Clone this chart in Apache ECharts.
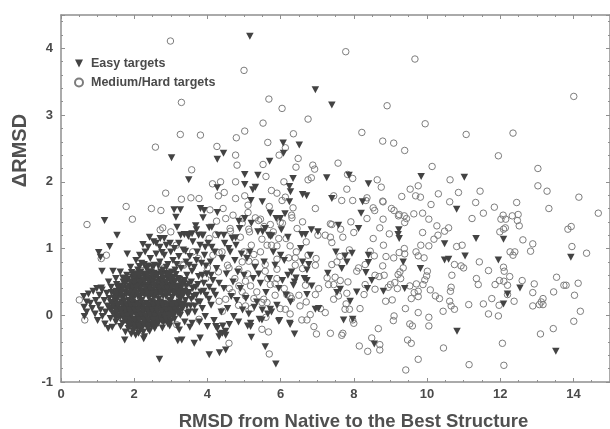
<!DOCTYPE html>
<html><head><meta charset="utf-8">
<style>html,body{margin:0;padding:0;background:#fff}#c{width:610px;height:429px;filter:blur(0.55px)}</style>
<script src="https://cdn.jsdelivr.net/npm/echarts@6/dist/echarts.min.js"></script>
</head><body><div id="c"></div>
<script>
const xTickLabels=[0,2,4,6,8,10,12,14];
const yTickLabels=[-1,0,1,2,3,4];
const easyUpper=[[5.16,4.18],[3.02,2.36],[3.49,2.03],[6.07,2.58],[6.51,2.55],[6.08,2.43],[4.44,2.43],[4.27,2.34],[5.7,2.31],[5.02,2.11],[5.38,2.1],[5.02,1.96],[6.34,2.05],[4.27,1.91],[5.31,1.92],[5.24,1.88],[6.24,1.93],[6.27,1.85],[6.6,1.81],[5.19,1.72],[5.5,1.7],[6.24,1.7],[3.09,1.58],[3.26,1.58],[3.81,1.6],[3.91,1.57],[4.27,1.54],[5.72,1.53],[6.12,1.52],[6.95,3.38],[7.4,3.15],[9.84,2.08],[11.02,2.07],[7.87,2.1],[7.26,2.06],[8.4,1.97],[6.71,1.79],[7.4,1.75],[8.24,1.7],[10.81,1.59],[8.2,1.53]];
const easyRight=[[6.84,1.28],[7.02,1.25],[6.68,1.21],[7.58,1.35],[8.13,1.3],[9.23,1.28],[9.24,1.15],[9.21,1.21],[11.34,1.15],[12.09,1.14],[10.48,1.07],[11.04,0.89],[7.51,0.95],[7.95,0.93],[7.76,0.89],[7.81,0.8],[8.4,0.9],[8.4,0.79],[7.67,0.7],[6.81,0.9],[10.48,0.83],[10.59,0.84],[11.95,0.83],[13.93,0.87],[9.35,0.8],[9.82,0.7],[6.77,0.76],[6.72,0.68],[7.29,0.63],[8.33,0.64],[8.49,0.52],[6.85,0.44],[6.72,0.52],[8.81,0.36],[8.37,0.4],[9.39,0.4],[12.54,0.41],[7.54,0.34],[7.63,0.39],[8.08,0.35],[6.72,0.31],[12.2,0.32],[7.9,0.21],[12.09,0.17],[6.95,0.09],[7.04,0.1],[7.72,-0.07],[7.97,-0.06],[10.82,-0.24],[8.56,-0.43],[13.52,-0.54]];
const easyLower=[[1.19,1.42],[1.53,1.2],[1.33,1.03],[1.03,0.94],[1.08,0.87],[1.81,0.92],[1.12,0.66],[1.42,0.66],[2.69,-0.66],[1.74,-0.37],[2.26,-0.35],[3.19,-0.38],[3.3,-0.37],[3.64,-0.42],[3.8,-0.34],[4.05,-0.59],[4.33,-0.56],[4.5,-0.52],[5.58,-0.47],[5.87,-0.73],[5.2,-0.33],[6.38,-0.28],[3.23,-0.22],[4.23,-0.17],[4.41,-0.27],[4.32,-0.32],[4.5,-0.24],[5.18,-0.17],[5.95,-0.09],[6.26,-0.14],[5.72,0.09],[5.49,-0.07],[4,-0.17],[3.52,-0.18],[3.14,1.47],[3.17,1.32],[2.42,1.17],[2.71,1.15],[2.82,1.15],[2.24,1.06],[3.37,1.21],[3.46,1.21],[3.68,1.34],[3.88,1.46],[4.05,1.31],[3.76,1.2],[3.86,1.2],[4.45,1.2],[4.77,1.16],[4.86,1.41],[5.51,1.25],[5.76,1.19],[5.99,1.45],[6.2,1.17],[6.58,1.21]];
const easyCluster=[[0.62,0.28],[0.75,0.32],[0.63,0.12],[0.7,0.2],[0.64,-0.02],[0.7,0.05],[0.8,0.18],[0.85,0.1],[0.88,0.36],[0.95,0.22],[0.93,0.02],[0.98,0.4],[1,-0.08],[1.02,0.15],[1.05,0.3],[1.08,0.08],[1.1,0.41],[1.12,0.38],[1.13,-0.02],[1.18,0.22],[1.2,-0.13],[1.22,0.05],[1.25,0.33],[1.27,0.14],[1.29,-0.2],[1.3,0.5],[1.32,0.25],[1.35,-0.05],[1.37,0.42],[1.38,0.08],[1.4,-0.18],[1.42,0.18],[1.45,0.32],[1.47,0.02],[1.5,0.55],[1.5,-0.1],[1.52,0.24],[1.55,0.13],[1.55,0.42],[1.58,-0.02],[1.6,0.34],[1.62,0.65],[1.63,-0.17],[1.65,0.2],[1.68,0.07],[1.7,0.5],[1.72,0.28],[1.74,-0.08],[1.76,-0.25],[1.78,0.14],[1.8,0.6],[1.8,0.4],[1.83,0],[1.85,0.22],[1.86,-0.16],[1.88,0.32],[1.9,0.72],[1.9,0.1],[1.92,-0.28],[1.94,0.5],[1.95,-0.06],[1.97,0.25],[1.98,0.62],[2,0.38],[2,0.05],[2,-0.19],[2.02,0.16],[2.04,-0.3],[2.05,0.82],[2.07,0.46],[2.08,-0.1],[2.1,0.28],[2.1,0.68],[2.12,0],[2.14,0.56],[2.15,0.12],[2.17,0.36],[2.18,-0.22],[2.2,0.78],[2.2,0.22],[2.22,-0.04],[2.24,0.48],[2.25,0.6],[2.27,0.08],[2.28,-0.32],[2.3,0.32],[2.3,0.95],[2.32,0.18],[2.33,0.7],[2.35,-0.13],[2.36,0.42],[2.38,0.02],[2.4,0.55],[2.4,0.26],[2.42,-0.24],[2.44,0.85],[2.45,0.12],[2.47,0.65],[2.48,0.36],[2.5,-0.06],[2.5,0.2],[2.52,0.5],[2.53,1.1],[2.55,0.75],[2.56,0.05],[2.58,0.3],[2.6,-0.15],[2.6,0.92],[2.62,0.42],[2.64,0.14],[2.65,0.62],[2.67,0.24],[2.68,-0.04],[2.7,1.02],[2.7,0.8],[2.72,0.5],[2.74,0.34],[2.75,0.08],[2.77,-0.19],[2.78,0.68],[2.8,0.18],[2.82,0.9],[2.83,0.44],[2.85,-0.08],[2.87,0.28],[2.88,1.05],[2.9,0.56],[2.9,0.02],[2.92,0.76],[2.94,0.38],[2.95,0.12],[2.97,-0.16],[2.98,0.62],[3,0.95],[3,0.22],[3.02,0.48],[3.04,0.05],[3.06,0.82],[3.08,0.32],[3.1,-0.06],[3.1,1],[3.12,0.68],[3.14,0.16],[3.16,0.42],[3.18,-0.16],[3.2,0.55],[3.22,0.88],[3.24,0.25],[3.26,0],[3.27,1.2],[3.28,0.7],[3.3,0.36],[3.32,0.1],[3.34,0.98],[3.36,0.48],[3.38,-0.1],[3.4,0.22],[3.42,0.8],[3.44,0.6],[3.46,0.03],[3.48,1.18],[3.5,0.34],[3.52,0.88],[3.54,0.14],[3.56,0.5],[3.58,-0.12],[3.6,1.1],[3.62,0.28],[3.64,0.72],[3.66,0.05],[3.68,0.42],[3.7,1.28],[3.72,0.95],[3.74,0.2],[3.76,0.58],[3.78,-0.1],[3.8,1.05],[3.82,0.35],[3.84,0.78],[3.86,0.1],[3.88,1.2],[3.9,0.48],[3.92,0.9],[3.94,-0.02],[3.96,0.3],[3.98,0.62]];
const easyCore=[[1.44,0.26],[1.58,0.29],[1.66,0.27],[1.79,0.31],[1.91,0.28],[2.03,0.3],[2.16,0.27],[2.28,0.3],[2.41,0.31],[2.53,0.27],[2.66,0.31],[2.79,0.29],[2.91,0.31],[3.03,0.27],[3.17,0.3],[3.29,0.28],[1.36,0.19],[1.49,0.2],[1.6,0.17],[1.73,0.21],[1.86,0.17],[1.96,0.2],[2.07,0.18],[2.19,0.2],[2.34,0.17],[2.46,0.21],[2.58,0.18],[2.72,0.2],[2.84,0.17],[2.97,0.21],[3.09,0.18],[3.23,0.2],[3.36,0.17],[1.33,0.1],[1.46,0.12],[1.58,0.09],[1.7,0.13],[1.83,0.09],[1.94,0.12],[2.06,0.09],[2.2,0.12],[2.31,0.09],[2.43,0.13],[2.56,0.1],[2.69,0.12],[2.81,0.09],[2.93,0.13],[3.06,0.1],[3.19,0.12],[3.31,0.09],[1.41,0.03],[1.54,0.05],[1.66,0.02],[1.78,0.05],[1.9,0.02],[2.03,0.05],[2.15,0.03],[2.27,0.05],[2.4,0.06],[2.52,0.02],[2.64,0.05],[2.77,0.02],[2.89,0.05],[3.01,0.02],[3.13,0.05],[1.5,-0.05],[1.62,-0.03],[1.72,-0.05],[1.85,-0.03],[1.98,-0.06],[2.1,-0.03],[2.24,-0.06],[2.33,-0.03],[2.46,-0.05],[2.58,-0.03],[2.71,-0.06],[2.82,-0.03],[2.94,-0.06],[3.06,-0.03],[1.68,-0.12],[1.8,-0.1],[1.92,-0.13],[2.04,-0.11],[2.16,-0.13],[2.28,-0.1],[2.41,-0.13],[2.54,-0.1],[2.66,-0.12],[2.8,-0.11],[2.92,-0.13],[1.84,-0.2],[1.96,-0.18],[2.09,-0.2],[2.22,-0.18],[2.37,-0.2],[2.47,-0.17],[2.56,-0.2],[1.97,-0.24],[2.12,-0.27],[2.25,-0.25],[1.38,0.34],[1.51,0.36],[1.64,0.38],[1.76,0.35],[1.9,0.39],[2.01,0.36],[2.13,0.39],[2.26,0.36],[2.38,0.35],[2.51,0.38],[2.63,0.35],[2.76,0.39],[2.88,0.36],[3.01,0.39],[3.13,0.36],[3.26,0.39],[3.38,0.36],[1.52,0.46],[1.63,0.44],[1.75,0.47],[1.87,0.44],[2,0.47],[2.11,0.44],[2.21,0.47],[2.33,0.45],[2.45,0.47],[2.58,0.45],[2.7,0.44],[2.81,0.47],[2.93,0.45],[3.05,0.47],[3.18,0.44],[3.31,0.47],[1.69,0.56],[1.83,0.54],[1.95,0.57],[2.07,0.55],[2.19,0.53],[2.31,0.56],[2.44,0.54],[2.56,0.57],[2.68,0.54],[2.8,0.56],[2.96,0.54],[3.08,0.57],[3.24,0.54],[1.93,0.64],[2.05,0.62],[2.18,0.65],[2.3,0.62],[2.42,0.65],[2.54,0.63],[2.73,0.65],[2.86,0.63],[3.02,0.65],[2.14,0.73],[2.27,0.76],[2.39,0.74],[2.5,0.72],[2.66,0.74],[2.88,0.72],[3.16,0.76],[3.5,0.05],[3.44,0.14],[3.56,0.24],[3.47,0.3],[3.42,0.43],[3.6,0.4],[3.5,0.47],[3.7,0.3],[3.65,0.14],[3.8,0.2],[3.74,0.46],[3.9,0.36],[3.86,0.6],[3.58,0.66],[3.7,0.82],[3.5,0.75],[3.4,0.96],[3.96,0.74],[4.04,0.24],[4.1,0.6],[4.16,0.36],[4.12,1.02],[3.94,1.02],[3.58,1.22],[3.22,1.08],[2.98,1.08],[2.76,0.94],[2.6,1.08],[2.38,1.02],[2.15,0.9]];
const easyCoreFill=[[1.52,0.31],[1.65,0.33],[1.85,0.33],[1.97,0.34],[2.09,0.33],[2.22,0.34],[2.35,0.33],[2.47,0.32],[2.6,0.34],[2.73,0.33],[2.85,0.33],[2.97,0.34],[3.1,0.33],[3.23,0.34],[3.35,0.31],[1.43,0.15],[1.55,0.15],[1.67,0.16],[1.8,0.15],[1.91,0.15],[2.01,0.14],[2.13,0.15],[2.26,0.15],[2.38,0.15],[2.52,0.15],[2.65,0.16],[2.78,0.15],[2.9,0.15],[3.03,0.15],[3.16,0.16],[3.29,0.15],[1.52,0.07],[1.64,0.07],[1.76,0.08],[1.88,0.06],[2,0.08],[2.12,0.07],[2.25,0.08],[2.37,0.08],[2.49,0.08],[2.62,0.07],[2.75,0.06],[2.87,0.08],[3,0.07],[3.12,0.08],[3.25,0.06],[1.56,-0.01],[1.69,0],[1.81,-0.01],[1.93,0],[2.07,-0.01],[2.19,0],[2.31,-0.01],[2.43,0],[2.56,-0.01],[2.7,0],[2.83,-0.01],[2.95,0],[3.08,0.01],[3.2,0.03],[1.76,-0.07],[1.89,-0.08],[2.01,-0.08],[2.14,-0.07],[2.27,-0.08],[2.39,-0.08],[2.52,-0.07],[2.64,-0.08],[2.76,-0.09],[2.88,-0.08],[3,-0.09],[1.89,-0.15],[2.02,-0.16],[2.13,-0.17],[2.26,-0.15],[2.38,-0.16],[2.51,-0.14],[1.58,0.41],[1.7,0.41],[1.82,0.41],[1.95,0.42],[2.06,0.42],[2.19,0.42],[2.3,0.41],[2.42,0.41],[2.55,0.42],[2.68,0.41],[2.79,0.42],[2.9,0.41],[3.03,0.42],[3.15,0.4],[3.28,0.42],[1.77,0.52],[1.89,0.5],[2.02,0.51],[2.15,0.5],[2.27,0.51],[2.39,0.5],[2.5,0.52],[2.63,0.5],[2.76,0.52],[2.88,0.5],[3,0.52],[3.12,0.51],[3.25,0.5],[3.38,0.52],[2.01,0.59],[2.13,0.6],[2.36,0.6],[2.49,0.6],[2.62,0.59],[2.75,0.6],[2.94,0.6],[3.14,0.61]];
const easyMiddle=[[4.02,1.08],[4.05,0.42],[4.08,0.8],[4.1,0.15],[4.12,1.32],[4.15,0.52],[4.18,-0.08],[4.2,0.95],[4.22,0.3],[4.25,0.7],[4.27,-0.2],[4.3,1.2],[4.32,0.48],[4.35,-0.28],[4.38,0.05],[4.4,0.85],[4.42,-0.16],[4.45,0.4],[4.47,1.08],[4.5,-0.3],[4.52,0.62],[4.55,0.1],[4.58,1],[4.6,-0.14],[4.62,0.95],[4.65,0.28],[4.68,1.15],[4.7,0.5],[4.72,-0.02],[4.75,0.82],[4.78,1.05],[4.8,0.22],[4.83,0.65],[4.85,-0.1],[4.88,1.3],[4.9,0.4],[4.93,0.92],[4.96,0.08],[5,0.6],[5.02,1.45],[5.05,0.25],[5.08,0.85],[5.1,-0.16],[5.13,0.02],[5.16,0.95],[5.18,-0.12],[5.2,1.38],[5.25,0.55],[5.28,0.12],[5.3,0.72],[5.35,0.2],[5.38,1.25],[5.4,0.62],[5.42,-0.06],[5.45,0.48],[5.5,0.08],[5.55,0.8],[5.58,1.3],[5.6,0.34],[5.65,0.02],[5.68,1.2],[5.7,0.55],[5.72,1.18],[5.75,0.05],[5.8,0.95],[5.85,0.75],[5.88,1.45],[5.9,0.15],[5.95,0.4],[5.97,-0.08],[6,0.9],[6.02,1.28],[6.05,0.52],[6.1,0.82],[6.15,0.3],[6.2,0.6],[6.25,-0.12],[6.27,0.2],[6.3,0.65],[6.35,0.45],[6.38,0.5],[6.42,0.56],[6.55,1],[6.6,0.8],[6.65,0.55]];
const mediumUpperLeft=[[2.99,4.11],[5,3.67],[3.29,3.19],[5.68,3.24],[6.04,3.1],[5.52,2.88],[5.02,2.76],[3.26,2.71],[3.81,2.7],[4.79,2.66],[6.35,2.72],[5.65,2.59],[2.58,2.52],[4.26,2.53],[6.13,2.51],[4.77,2.4],[5.96,2.4],[6.48,2.35],[4.81,2.25],[5.52,2.26],[6.42,2.22],[3.57,2.18],[5.6,2.08],[4.14,1.97],[4.36,2],[4.77,2],[6.09,2],[2.86,1.83],[4.46,1.84],[4.3,1.79],[3.29,1.74],[3.55,1.76],[3.77,1.75],[4.77,1.75],[5.02,1.79],[5.75,1.87],[5.9,1.83],[6.04,1.72],[6.13,1.77],[5.11,1.65],[5.69,1.63],[6.34,1.61],[1.78,1.63],[2.47,1.6],[2.73,1.57],[4.07,1.58],[4.43,1.6],[5.11,1.54]];
const mediumUpperRight=[[7.78,3.95],[9.67,3.84],[14.01,3.28],[8.91,3.14],[6.75,2.94],[9.95,2.87],[8.22,2.74],[11.07,2.71],[12.35,2.73],[8.79,2.61],[9.09,2.58],[9.39,2.47],[11.95,2.39],[7.57,2.28],[6.88,2.25],[6.93,2.19],[10.14,2.23],[13.03,2.2],[6.75,2.03],[6.84,2.06],[7.83,2.11],[7.97,2.05],[8.64,2.03],[10.63,2.03],[8.75,1.92],[7.81,1.89],[9.76,1.94],[9.54,1.89],[13.03,1.94],[13.28,1.86],[10.86,1.84],[11.45,1.86],[10.31,1.82],[9.31,1.78],[9.69,1.79],[9.82,1.77],[7.45,1.79],[8.36,1.76],[7.67,1.72],[7.97,1.72],[8.33,1.72],[8.79,1.71],[8.8,1.7],[10.62,1.7],[11.33,1.69],[12.45,1.69],[14.15,1.77],[10.11,1.66],[11.84,1.62],[13.33,1.6],[6.95,1.6],[8.53,1.61],[8.57,1.57],[9.03,1.6],[9.1,1.57],[9.24,1.51],[9.38,1.49],[9.64,1.52],[9.88,1.53],[11.54,1.53],[12.08,1.5],[12.33,1.49],[12.49,1.51],[14.68,1.53]];
const mediumLowerRight=[[7.36,1.37],[7.4,1.36],[7.92,1.4],[8.36,1.45],[8.8,1.44],[9.22,1.49],[9.44,1.45],[9.39,1.39],[10.05,1.44],[11.23,1.45],[12.02,1.44],[12.15,1.44],[12.47,1.42],[10.27,1.34],[10.59,1.31],[12.52,1.34],[13.94,1.33],[13.85,1.29],[12.14,1.31],[12.09,1.29],[11.99,1.25],[7.64,1.29],[8,1.24],[8.71,1.31],[8.97,1.22],[9.88,1.24],[10.48,1.26],[10.3,1.2],[10.19,1.14],[7.02,1.2],[7.22,1.2],[7.36,1.17],[7.7,1.17],[8.53,1.15],[7.4,1.09],[12.62,1.13],[12.89,1.07],[8.81,1.05],[9.83,1.05],[10.05,1.04],[10.81,1.03],[10.96,1.05],[13.96,1.03],[9.38,1],[7.88,0.98],[8.45,0.96],[9.7,0.95],[9.24,0.94],[9.39,0.92],[12.83,0.96],[12.27,0.95],[12.4,0.95],[12.35,0.9],[14.36,0.93],[7.62,0.88],[8.56,0.89],[8.88,0.88],[9.09,0.86],[9.76,0.89],[9.92,0.86],[6.97,0.85],[11.43,0.8],[7.54,0.8],[7.4,0.76],[6.95,0.75],[10.75,0.76],[10.93,0.74],[11,0.71],[8.79,0.74],[8.13,0.71],[8.31,0.76],[12.09,0.72],[12.11,0.66],[11.68,0.67],[8.08,0.66],[10.01,0.66],[9.35,0.71],[9.26,0.65],[9.21,0.61],[9.99,0.59],[9.94,0.53],[10.68,0.6],[7.27,0.56],[7.49,0.57],[7.63,0.52],[8.58,0.6],[8.83,0.6],[8.69,0.58],[12.26,0.58],[13.54,0.57],[11.35,0.55],[9.28,0.55],[12.6,0.52],[7.84,0.5],[11.98,0.52],[12.1,0.51],[11.4,0.46],[11.86,0.46],[12.2,0.45],[12.93,0.47],[13.74,0.45],[13.8,0.45],[14.13,0.48],[8.31,0.46],[7.31,0.46],[7.45,0.46],[9,0.46],[9.12,0.49],[9.71,0.47],[9.89,0.46],[9.53,0.44],[10.66,0.42],[10.64,0.36],[10.09,0.38],[8.58,0.39],[8.28,0.31],[8.94,0.42],[9.19,0.4],[9.76,0.36],[9.65,0.34],[12.89,0.34],[13.46,0.35],[7.81,0.33],[12.2,0.31],[7.04,0.4],[6.95,0.31],[10.23,0.29],[10.34,0.25],[9.76,0.28],[9.57,0.25],[14.03,0.3],[12.38,0.21],[11.77,0.25],[9.05,0.23],[8.87,0.21],[7.45,0.24],[7.58,0.29],[10.62,0.21],[13.12,0.2],[13.17,0.25],[13.07,0.16],[13.17,0.16],[7.79,0.17],[11.14,0.16],[11.54,0.17],[10.66,0.14],[10.75,0.09],[11.97,0.15],[12.89,0.14],[8.17,0.1],[9.41,0.1],[7.76,0.09],[7.88,0.09],[10.44,0.06],[14.19,0.06],[9.76,0.04],[7.22,0.04],[7.09,0.1],[11.68,0.02],[11.95,-0.01],[9.1,-0.01],[9.08,-0.08],[10.05,-0.03],[8,-0.12],[7.97,-0.07],[14.01,-0.09],[9.53,-0.13],[9.6,-0.16],[10.05,-0.16],[6.72,-0.07],[6.81,0.01],[6.91,-0.17],[8.67,-0.2],[13.45,-0.2],[6.98,-0.28],[7.36,-0.27],[7.67,-0.3],[7.7,-0.27],[13.1,-0.28],[8.49,-0.34],[9.47,-0.37],[9.57,-0.42],[12.06,-0.42],[8.15,-0.46],[8.71,-0.44],[8.71,-0.52],[10.45,-0.49],[8.38,-0.54],[9.76,-0.66],[11.15,-0.74],[12.1,-0.75],[9.42,-0.82]];
const mediumLowerLeft=[[0.71,1.36],[1.95,1.44],[2.78,1.31],[2.71,1.28],[1.24,0.9],[1.1,0.85],[0.5,0.23],[0.65,-0.07],[4.59,-0.42],[5.69,-0.58],[5.67,-0.25],[5.49,-0.21],[3.77,-0.06],[3.16,-0.14],[4.25,1.41],[4.96,1.45],[5.31,1.46],[5.45,1.44],[5.72,1.36],[5.99,1.39],[6.31,1.46],[5.13,1.29],[4.63,1.26],[4.9,1.17],[4.23,1.21],[5.49,1.14],[5.63,1.05],[5.9,1.04],[6.26,1.04],[6.43,0.95],[6.22,0.86],[6.4,0.86],[5,0.95],[5.27,0.91],[5.13,0.81],[5.31,0.79],[4.32,0.94],[5.9,0.84],[5.58,0.76],[5.58,0.66],[5.9,0.69],[4.59,0.71],[4.86,0.69],[4,0.71],[3.32,0.76],[2.82,0.71],[2.24,0.76],[5.04,0.51],[5.18,0.44],[4.86,0.44],[5.72,0.46],[5.85,0.47],[6.17,0.31],[6.26,0.29],[6.53,0.14],[4.32,0.21],[4.5,0.24],[5.04,0.29],[5.27,0.25],[5.49,0.19],[5.63,0.19],[5.54,0.24],[5.99,0.1],[6.13,0.09],[6.26,0.02],[6.58,-0.07],[4.41,0.06],[5.04,0.14],[4.68,0.34],[4.5,1.45],[4.7,1.5],[4.62,1.3],[4.95,1.38],[5.15,1.25],[5.4,1.42],[5.55,1.33],[5.8,1.25],[6.05,1.38],[6.3,1.5],[6.45,1.3],[6.6,1.4],[6.7,1.1],[6.75,0.9],[6.6,0.7],[6.68,0.45],[6.5,0.3],[6.7,0.2],[6.4,0.75],[6.15,1.15],[5.95,1.15],[5.75,1.05],[5.45,0.95],[5.2,1.05],[4.95,0.8],[4.75,0.55],[4.55,0.75],[4.4,0.95],[4.15,0.9],[3.95,0.55],[3.75,0.85],[3.6,0.95],[3.35,0.75],[3.15,1.05],[3,1.25],[4.05,1.15],[4.3,0.65],[5.1,0.62],[5.35,0.35],[5.65,0.55],[5.9,0.55],[6.1,0.4],[6.3,0.25],[4.95,0.35],[4.6,0.4],[4.85,0.15],[5.2,0.1],[5.6,-0.03],[5.85,0.3]];
const easyData=[...easyUpper,...easyRight,...easyLower,...easyCluster,...easyCore,...easyCoreFill,...easyMiddle];
const mediumData=[...mediumUpperLeft,...mediumUpperRight,...mediumLowerRight,...mediumLowerLeft];
const axisGrey='#8f8f8f', ink='#4a4a4a';
const downTriangle='path://M0 0L10 0L5 10Z';
const lineCfg={onZero:false,lineStyle:{color:axisGrey,width:1.5}};
function xAxisCfg(pos,labels){return {type:'value',position:pos,min:0,max:15,interval:2,splitLine:{show:false},axisLine:{show:true,...lineCfg},
 axisTick:{show:true,inside:true,length:4,lineStyle:{color:axisGrey}},minorTick:{show:true,splitNumber:4,length:2,lineStyle:{color:axisGrey}},
 axisLabel:labels?{show:true,color:ink,fontFamily:'Liberation Sans',fontWeight:'bold',fontSize:13,margin:6,showMaxLabel:false,formatter:v=>xTickLabels.includes(v)?String(v):''}:{show:false}};}
function yAxisCfg(pos,labels){return {type:'value',position:pos,min:-1,max:4.5,interval:1,splitLine:{show:false},axisLine:{show:true,...lineCfg},
 axisTick:{show:true,inside:true,length:4,lineStyle:{color:axisGrey}},minorTick:{show:true,splitNumber:5,length:2,lineStyle:{color:axisGrey}},
 axisLabel:labels?{show:true,color:ink,fontFamily:'Liberation Sans',fontWeight:'bold',fontSize:13,margin:8,showMaxLabel:false,formatter:v=>yTickLabels.includes(v)?String(v):''}:{show:false}};}
const chart=echarts.init(document.getElementById('c'),null,{renderer:'canvas'});
chart.setOption({
 animation:false,backgroundColor:'#fff',
 grid:{left:61,right:0,top:15,bottom:47,outerBoundsMode:'none'},
 xAxis:[Object.assign(xAxisCfg('bottom',true),{name:'RMSD from Native to the Best Structure',nameLocation:'middle',nameGap:30,nameTextStyle:{color:'#505050',fontFamily:'Liberation Sans',fontWeight:'bold',fontSize:18.5,padding:[0,0,0,36]}}),xAxisCfg('top',false)],
 yAxis:[Object.assign(yAxisCfg('left',true),{name:'ΔRMSD',nameLocation:'middle',nameGap:29,nameRotate:90,nameTextStyle:{color:'#505050',fontFamily:'Liberation Sans',fontWeight:'bold',fontSize:20,padding:[0,0,0,96]}}),yAxisCfg('right',false)],
 legend:{left:69,top:52,orient:'vertical',itemGap:6,itemWidth:10,itemHeight:8,textStyle:{color:ink,fontFamily:'Liberation Sans',fontWeight:'bold',fontSize:12.5,padding:[0,0,0,2]},
  data:[{name:'Easy targets',icon:downTriangle},{name:'Medium/Hard targets',icon:'circle'}]},
 series:[
  {name:'Medium/Hard targets',type:'scatter',data:mediumData,symbol:'circle',symbolSize:6.5,itemStyle:{color:'rgba(255,255,255,0)',borderColor:'#7d7d7d',borderWidth:1,opacity:1},z:2},
  {name:'Easy targets',type:'scatter',data:easyData,symbol:downTriangle,symbolSize:[7.5,7],itemStyle:{color:'#434343',opacity:1},z:3}
 ]
});
</script></body></html>
